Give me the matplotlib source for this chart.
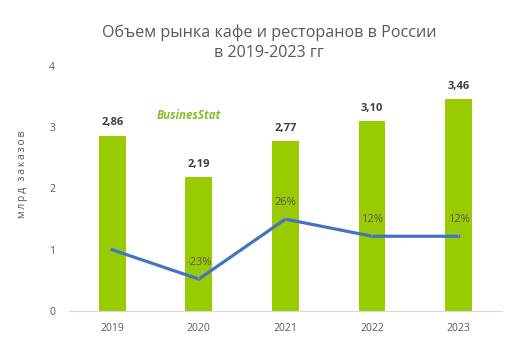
import matplotlib.pyplot as plt
import numpy as np

plt.rcParams['font.family'] = ['Open Sans', 'DejaVu Sans']

years = ["2019", "2020", "2021", "2022", "2023"]
volume = [2.86, 2.19, 2.77, 3.10, 3.46]
growth = [1, -23, 26, 12, 12]
growth_labels = ["", "-23%", "26%", "12%", "12%"]

GREEN = '#99cc00'
BLUE = '#4472c4'
GREY = '#595959'

fig = plt.figure(figsize=(5.18, 3.57), dpi=100)
ax = fig.add_axes([0.133, 0.129, 0.836, 0.686])

x = np.arange(len(years))
ax.bar(x, volume, width=0.31, color=GREEN, zorder=2)
for xi, v in zip(x, volume):
    ax.text(xi, v + 0.12, f"{v:.2f}".replace('.', ','), ha='center', va='bottom',
            fontsize=8, fontweight='bold', color='#404040')

ax.set_xlim(-0.5, 4.5)
ax.set_ylim(0, 4)
ax.set_yticks([0, 1, 2, 3, 4])
ax.set_xticks(x)
ax.set_xticklabels(years)
ax.tick_params(length=0, labelsize=7.5, labelcolor=GREY)
ax.tick_params(axis='y', pad=10)
ax.tick_params(axis='x', pad=9)
for s in ['top', 'right', 'left']:
    ax.spines[s].set_visible(False)
ax.spines['bottom'].set_color('#d9d9d9')
# letter-spaced axis label
ylab = "\u2009".join("млрд заказов")
ax.set_ylabel(ylab, fontsize=7.5, color=GREY)
ax.yaxis.set_label_coords(-0.095, 0.56)

# growth line on a hidden secondary axis
ax2 = ax.twinx()
ax2.set_ylim(-49, 151)
ax2.plot(x, growth, color=BLUE, lw=2.3, zorder=3)
ax2.axis('off')
for xi, g, lab in zip(x, growth, growth_labels):
    if not lab:
        continue
    ax2.annotate(lab, (xi, g), xytext=(0, 8), textcoords='offset points',
                 ha='center', va='bottom', fontsize=8, color=GREY,
                 arrowprops=dict(arrowstyle='-', color='#a6a6a6', lw=0.6,
                                 shrinkA=0, shrinkB=0))

fig.text(0.52, 0.88, "Объем рынка кафе и ресторанов в России\nв 2019-2023 гг",
         ha='center', va='center', fontsize=11.6, color=GREY, linespacing=1.35)

# logo
ax.text(0.89, 3.2, "BusinesStat", ha='center', va='center', fontsize=8.3,
        fontstyle='italic', fontweight='bold', color='#86bd2a')

fig.savefig("out.png", dpi=100)
